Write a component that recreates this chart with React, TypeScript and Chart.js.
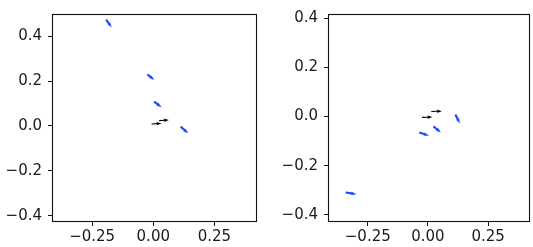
import { useEffect, useRef } from "react";
import { Chart, registerables } from "chart.js";

Chart.register(...registerables);

// Tick labels
const xTickValues = [-0.25, 0, 0.25];
const yTickValues = [-0.4, -0.2, 0, 0.2, 0.4];

// Left panel: arrow tails (x, y) and vectors (u, v), data units
const leftBlueX = [-0.193, -0.024, 0.003, 0.112];
const leftBlueY = [0.474, 0.23, 0.109, -0.003];
const leftBlueU = [0.023, 0.0285, 0.031, 0.031];
const leftBlueV = [-0.034, -0.0255, -0.0255, -0.03];
const leftBlackX = [-0.007, 0.024];
const leftBlackY = [0.009, 0.024];
const leftBlackU = [0.041, 0.04];
const leftBlackV = [0.0025, 0.003];

// Right panel
const rightBlueX = [0.114, 0.023, -0.036, -0.342];
const rightBlueY = [0.0085, -0.04, -0.065, -0.309];
const rightBlueU = [0.019, 0.031, 0.041, 0.045];
const rightBlueV = [-0.0365, -0.0245, -0.013, -0.0066];
const rightBlackX = [-0.025, 0.014];
const rightBlackY = [-0.003, 0.021];
const rightBlackU = [0.044, 0.044];
const rightBlackV = [0.001, 0.001];

// Axis limits
const leftXRange = [-0.41, 0.42];
const leftYRange = [-0.424, 0.495];
const rightXRange = [-0.411, 0.42];
const rightYRange = [-0.425, 0.4136];

const BLUE = "#1a4dff";
const BLACK = "#000000";
const FONT = "'DejaVu Sans', sans-serif";

function fmt(v: number, d: number) {
  const s = Math.abs(v).toFixed(d);
  return v < -1e-9 ? "\u2212" + s : s;
}

const arrowPlugin = {
  id: "quiverArrows",
  afterDatasetsDraw(chart: any) {
    const ctx = chart.ctx;
    const xs = chart.scales.x;
    const ys = chart.scales.y;
    const area = chart.chartArea;
    ctx.save();
    ctx.beginPath();
    ctx.rect(area.left, area.top, area.right - area.left, area.bottom - area.top);
    ctx.clip();
    chart.data.datasets.forEach((ds: any) => {
      ctx.fillStyle = ds.arrowColor;
      ds.data.forEach((p: any, i: number) => {
        const x0 = xs.getPixelForValue(p.x);
        const y0 = ys.getPixelForValue(p.y);
        const x1 = xs.getPixelForValue(p.x + ds.us[i]);
        const y1 = ys.getPixelForValue(p.y + ds.vs[i]);
        const L = Math.hypot(x1 - x0, y1 - y0);
        const a = Math.atan2(y1 - y0, x1 - x0);
        const sw = ds.shaftPx;
        const hw = ds.headWPx;
        const hl = Math.min(ds.headLPx, L * 0.8);
        const hal = hl * 0.85;
        const pts = [
          [0, -sw / 2],
          [L - hal, -sw / 2],
          [L - hl, -hw / 2],
          [L, 0],
          [L - hl, hw / 2],
          [L - hal, sw / 2],
          [0, sw / 2],
        ];
        const c = Math.cos(a), s = Math.sin(a);
        ctx.beginPath();
        pts.forEach(([px, py], j) => {
          const X = x0 + px * c - py * s;
          const Y = y0 + px * s + py * c;
          if (j === 0) ctx.moveTo(X, Y); else ctx.lineTo(X, Y);
        });
        ctx.closePath();
        ctx.fill();
      });
    });
    ctx.restore();
  },
};

const framePlugin = {
  id: "frameBox",
  afterDraw(chart: any) {
    const { ctx, chartArea: a } = chart;
    ctx.save();
    ctx.strokeStyle = "#111";
    ctx.lineWidth = 1.1;
    ctx.strokeRect(a.left - 0.5, a.top - 0.5, a.right - a.left + 1, a.bottom - a.top + 1);
    ctx.restore();
  },
};

function makeData(bx: number[], by: number[], bu: number[], bv: number[], kx: number[], ky: number[], ku: number[], kv: number[]) {
  return {
    datasets: [
      {
        label: "loadings",
        data: bx.map((x, i) => ({ x, y: by[i] })),
        us: bu,
        vs: bv,
        arrowColor: BLUE,
        shaftPx: 2.2,
        headWPx: 3.8,
        headLPx: 5.5,
        pointRadius: 0,
        showLine: false,
      },
      {
        label: "origin",
        data: kx.map((x, i) => ({ x, y: ky[i] })),
        us: ku,
        vs: kv,
        arrowColor: BLACK,
        shaftPx: 1.1,
        headWPx: 3.4,
        headLPx: 5.2,
        pointRadius: 0,
        showLine: false,
      },
    ],
  };
}

function makeOptions(xr: number[], yr: number[], yWidth: number, xHeight: number, padRight: number) {
  return {
    animation: false,
    responsive: false,
    events: [],
    layout: { padding: { top: 5, right: padRight, left: 0, bottom: 0 } },
    plugins: { legend: { display: false }, tooltip: { enabled: false } },
    scales: {
      x: {
        type: "linear",
        min: xr[0],
        max: xr[1],
        afterBuildTicks: (s: any) => {
          s.ticks = xTickValues.map((v) => ({ value: v }));
        },
        afterFit: (s: any) => {
          s.height = xHeight;
        },
        grid: { drawOnChartArea: false, drawTicks: true, tickLength: 5, color: "#111", lineWidth: 1 },
        border: { display: false },
        ticks: {
          font: { family: FONT, size: 15 },
          color: "#1a1a1a",
          padding: 2,
          maxRotation: 0,
          autoSkip: false,
          callback: (v: any) => fmt(Number(v), 2),
        },
      },
      y: {
        type: "linear",
        min: yr[0],
        max: yr[1],
        afterBuildTicks: (s: any) => {
          s.ticks = yTickValues.map((v) => ({ value: v }));
        },
        afterFit: (s: any) => {
          s.width = yWidth;
        },
        grid: { drawOnChartArea: false, drawTicks: true, tickLength: 5, color: "#111", lineWidth: 1 },
        border: { display: false },
        ticks: {
          font: { family: FONT, size: 15 },
          color: "#1a1a1a",
          padding: 6,
          autoSkip: false,
          callback: (v: any) => fmt(Number(v), 1),
        },
      },
    },
  };
}

function Panel(props: { left: number; width: number; data: any; options: any }) {
  const ref = useRef<HTMLCanvasElement | null>(null);
  useEffect(() => {
    if (!ref.current) return;
    const chart = new Chart(ref.current, {
      type: "scatter",
      data: props.data,
      options: props.options,
      plugins: [arrowPlugin, framePlugin],
    } as any);
    return () => chart.destroy();
  }, []);
  return (
    <div style={{ position: "absolute", left: props.left, top: 0, width: props.width, height: 247 }}>
      <canvas ref={ref} width={props.width} height={247} style={{ display: "block" }} />
    </div>
  );
}

export default function App() {
  const leftData = makeData(leftBlueX, leftBlueY, leftBlueU, leftBlueV, leftBlackX, leftBlackY, leftBlackU, leftBlackV);
  const rightData = makeData(rightBlueX, rightBlueY, rightBlueU, rightBlueV, rightBlackX, rightBlackY, rightBlackU, rightBlackV);
  const leftOpts = makeOptions(leftXRange, leftYRange, 53, 26, 266 - 256);
  const rightOpts = makeOptions(rightXRange, rightYRange, 329 - 266, 26, 267 - (529 - 266));
  return (
    <div style={{ position: "absolute", left: 0, top: 0, width: 533, height: 247, background: "#fff" }}>
      <Panel left={0} width={266} data={leftData} options={leftOpts} />
      <Panel left={266} width={267} data={rightData} options={rightOpts} />
    </div>
  );
}
